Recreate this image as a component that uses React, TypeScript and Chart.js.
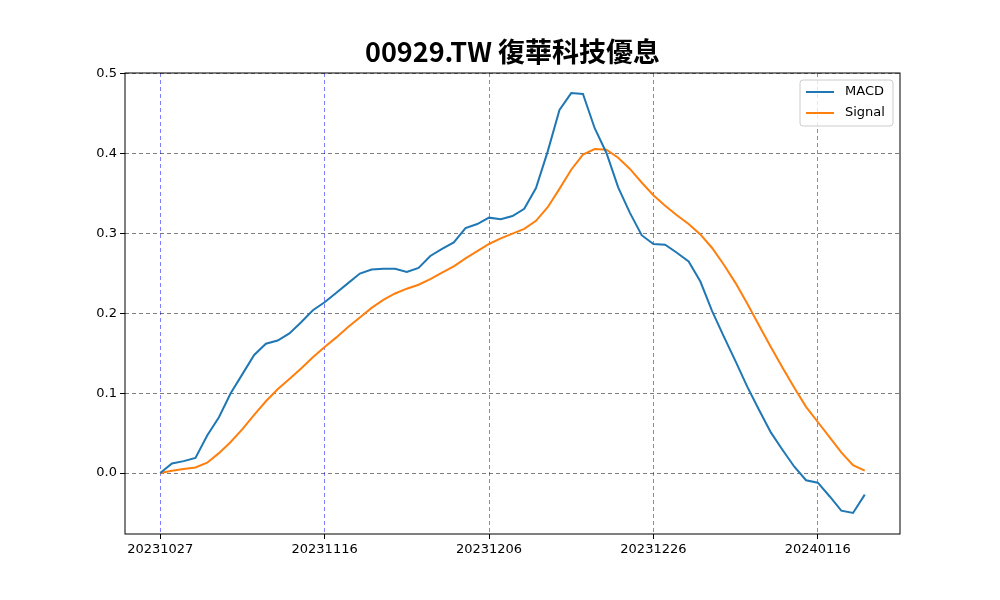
import React, { useEffect, useRef } from "react";
import { Chart, registerables } from "chart.js";
Chart.register(...registerables);

const dates = ["20231027","20231030","20231031","20231101","20231102","20231103","20231106","20231107","20231108","20231109","20231110","20231113","20231114","20231115","20231116","20231117","20231120","20231121","20231122","20231123","20231124","20231127","20231128","20231129","20231130","20231201","20231204","20231205","20231206","20231207","20231208","20231211","20231212","20231213","20231214","20231215","20231218","20231219","20231220","20231221","20231222","20231225","20231226","20231227","20231228","20231229","20240102","20240103","20240104","20240105","20240108","20240109","20240110","20240111","20240112","20240115","20240116","20240117","20240118","20240119","20240122"];
const macd = [0,0.012,0.015,0.019,0.047,0.07,0.10,0.124,0.148,0.162,0.166,0.175,0.189,0.204,0.214,0.226,0.238,0.25,0.255,0.256,0.256,0.252,0.257,0.272,0.281,0.289,0.307,0.312,0.32,0.318,0.322,0.331,0.357,0.403,0.455,0.476,0.475,0.432,0.401,0.358,0.326,0.298,0.287,0.286,0.276,0.265,0.24,0.203,0.171,0.14,0.108,0.079,0.051,0.029,0.008,-0.009,-0.012,-0.029,-0.047,-0.05,-0.027];
const signal = [0,0.003,0.005,0.007,0.013,0.025,0.039,0.055,0.073,0.09,0.105,0.118,0.131,0.145,0.158,0.17,0.183,0.195,0.207,0.217,0.225,0.231,0.236,0.243,0.251,0.259,0.269,0.278,0.287,0.294,0.3,0.306,0.316,0.333,0.356,0.38,0.399,0.406,0.405,0.395,0.381,0.364,0.348,0.335,0.323,0.312,0.299,0.282,0.261,0.238,0.212,0.185,0.158,0.132,0.107,0.083,0.064,0.045,0.026,0.01,0.003];
const title = "00929.TW 復華科技優息";
const yTicks = [0.0, 0.1, 0.2, 0.3, 0.4, 0.5];
const FONT = "'DejaVu Sans', sans-serif";

export default function App() {
  const ref = useRef<HTMLCanvasElement>(null);
  useEffect(() => {
    document.body.style.margin = "0";
    const deco = {
      id: "deco",
      afterDraw(c: any) {
        const { ctx, chartArea: a } = c;
        ctx.save();
        ctx.strokeStyle = "#000"; ctx.lineWidth = 1;
        ctx.strokeRect(a.left, a.top, a.right - a.left, a.bottom - a.top);
        ctx.fillStyle = "#000";
        ctx.font = "bold 27px 'Noto Sans CJK TC', sans-serif";
        ctx.textAlign = "center"; ctx.textBaseline = "middle";
        ctx.fillText(title, (a.left + a.right) / 2, 52);
        // legend
        const bx = a.right - 100, by = a.top + 7, bw = 93, bh = 46;
        ctx.fillStyle = "rgba(255,255,255,0.8)";
        ctx.strokeStyle = "#cccccc";
        ctx.beginPath(); ctx.roundRect(bx, by, bw, bh, 3); ctx.fill(); ctx.stroke();
        const items = [["MACD", "#1f77b4"], ["Signal", "#ff7f0e"]];
        ctx.font = "13px " + FONT; ctx.textAlign = "left";
        items.forEach(([t, col], i) => {
          const y = by + 12 + i * 21;
          ctx.strokeStyle = col; ctx.lineWidth = 2;
          ctx.beginPath(); ctx.moveTo(bx + 6, y); ctx.lineTo(bx + 34, y); ctx.stroke();
          ctx.fillStyle = "#000"; ctx.fillText(t, bx + 45, y);
        });
        ctx.restore();
      },
    };
    const ch = new Chart(ref.current!, {
      type: "line",
      data: {
        datasets: [
          { label: "MACD", data: macd.map((v, i) => ({ x: i, y: v })), borderColor: "#1f77b4", borderWidth: 2, pointRadius: 0, tension: 0 },
          { label: "Signal", data: signal.map((v, i) => ({ x: i, y: v })), borderColor: "#ff7f0e", borderWidth: 2, pointRadius: 0, tension: 0 },
        ],
      },
      options: {
        animation: false, responsive: false,
        layout: { padding: { top: 73, right: 100, left: 0, bottom: 0 } },
        plugins: { legend: { display: false }, tooltip: { enabled: false } },
        scales: {
          x: {
            type: "linear", min: -3, max: 63,
            afterBuildTicks: (s: any) => { s.ticks = [0, 14, 28, 42, 56].map((v) => ({ value: v })); },
            afterFit: (s: any) => { s.height = 66; },
            ticks: { color: "#000", font: { family: FONT, size: 13 }, maxRotation: 0, callback: (v: any) => dates[v] },
            grid: { color: "rgba(0,0,255,0.5)", tickColor: "#000", tickLength: 5 },
            border: { dash: [4, 3], display: false },
          },
          y: {
            min: -0.0763, max: 0.5012,
            afterBuildTicks: (s: any) => { s.ticks = yTicks.map((v) => ({ value: v })); },
            afterFit: (s: any) => { s.width = 125; },
            ticks: { color: "#000", font: { family: FONT, size: 13 }, callback: (v: any) => Number(v).toFixed(1) },
            grid: { color: "rgba(0,0,0,0.5)", tickColor: "#000", tickLength: 5 },
            border: { dash: [4, 3], display: false },
          },
        },
      },
      plugins: [deco],
    } as any);
    return () => ch.destroy();
  }, []);
  return <canvas ref={ref} width={1000} height={600} style={{ display: "block" }} />;
}
